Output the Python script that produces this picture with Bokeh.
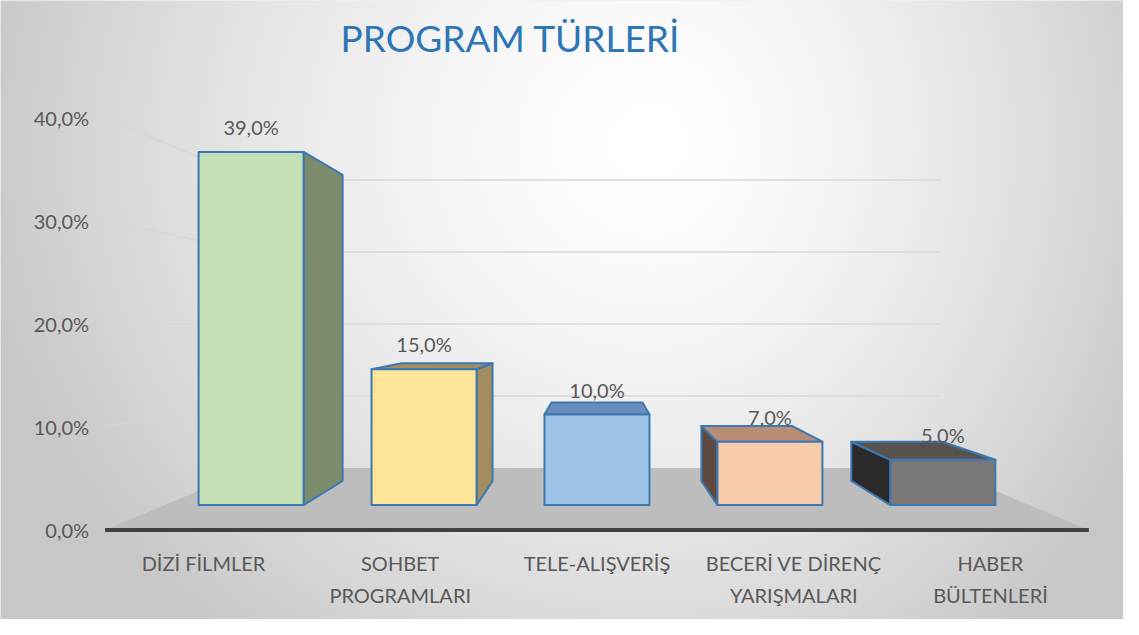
import numpy as np
from bokeh.plotting import figure
from bokeh.models import Range1d
from bokeh.core.properties import value
from bokeh.embed import file_html
from bokeh.resources import INLINE

# ---------------- data ----------------
title_text = "PROGRAM TÜRLERİ"
categories = ["DİZİ FİLMLER", "SOHBET PROGRAMLARI", "TELE-ALIŞVERİŞ",
              "BECERİ VE DİRENÇ YARIŞMALARI", "HABER BÜLTENLERİ"]
category_lines = [["DİZİ FİLMLER"], ["SOHBET", "PROGRAMLARI"], ["TELE-ALIŞVERİŞ"],
                  ["BECERİ VE DİRENÇ", "YARIŞMALARI"], ["HABER", "BÜLTENLERİ"]]
values = [39.0, 15.0, 10.0, 7.0, 5.0]
value_labels = ["39,0%", "15,0%", "10,0%", "7,0%", "5,0%"]
y_ticks = [0, 10, 20, 30, 40]
y_tick_labels = ["0,0%", "10,0%", "20,0%", "30,0%", "40,0%"]

front_colors = ["#C5E0B4", "#FFE699", "#9DC3E6", "#F8CBAD", "#7B7775"]
side_colors = ["#7C8B6B", "#A38D5E", "#5E7FA8", "#5E4A40", "#2B2929"]
top_colors = ["#7C8B6B", "#A38D5E", "#6A8CBC", "#B98D74", "#58524F"]

# ---------------- layout ----------------
W, H = 1123, 619
MARGIN = 8
PX_CAT = 196.75      # pixels per category on the front plane
X0_REF = 112.6       # page x of category axis start
PX_PCT = 10.3        # pixels per percent on the front plane
Y0_REF = 537.5       # page y of value 0 on the front plane

x_start = (MARGIN - X0_REF) / PX_CAT
x_end = x_start + W / PX_CAT
y_start = (Y0_REF - (MARGIN + H)) / PX_PCT
y_end = y_start + H / PX_PCT

# perspective: vanishing point (data units) and depth scale factors
VPX, VPY = 2.5, 20.0
S_FRONT = 1.0
S_BAR_F = 0.879
S_BAR_B = 0.762
S_WALL = 0.699
BAR_W = 0.607
N = len(categories)


def proj(x, v, s):
    return VPX + (x - VPX) * s, VPY + (v - VPY) * s


def face(pts):
    xs, ys = [], []
    for (x, v, s) in pts:
        a, b = proj(x, v, s)
        xs.append(a)
        ys.append(b)
    return xs, ys


p = figure(width=W, height=H, x_range=Range1d(x_start, x_end),
           y_range=Range1d(y_start, y_end), output_backend="svg",
           toolbar_location=None, min_border=0)
p.axis.visible = False
p.grid.visible = False
p.outline_line_color = None
p.background_fill_color = "#E6E6E6"
p.border_fill_color = "#E6E6E6"

# ---------------- background gradient ----------------
nx, ny = W // 2, H // 2
gx = np.linspace(0, W, nx)
gy = np.linspace(0, H, ny)
GX, GY = np.meshgrid(gx, gy)
cx, cy = 652, 142
rx = np.where(GX < cx, 600.0, 480.0)
r = np.sqrt(((GX - cx) / rx) ** 2 + ((GY - cy) / 560.0) ** 2)
r = np.clip(r, 0, 1.15)
val = (255 - 45 * r ** 1.5).astype(np.uint8)
img = np.empty((ny, nx), dtype=np.uint32)
view = img.view(dtype=np.uint8).reshape((ny, nx, 4))
view[:, :, 0] = val
view[:, :, 1] = val
view[:, :, 2] = val
view[:, :, 3] = 255
img = img[::-1]
p.image_rgba(image=[img], x=x_start, y=y_start, dw=x_end - x_start,
             dh=y_end - y_start, level="image")

# ---------------- walls & floor ----------------
for t in y_ticks[1:]:
    xs, ys = face([(0, t, S_WALL), (N, t, S_WALL)])
    p.line(xs, ys, line_color="#D9D9D9", line_width=1.5)
for t in y_ticks[1:]:
    xs, ys = face([(0, t, S_FRONT), (0, t, S_WALL)])
    p.line(xs, ys, line_color="#D6D6D6", line_width=1.5, line_alpha=0.8)

fx, fy = face([(0, 0, S_FRONT), (N, 0, S_FRONT), (N, 0, S_WALL), (0, 0, S_WALL)])
p.patch(fx, fy, fill_color="#BDBDBD", line_color=None)

# ---------------- bars ----------------
EDGE = "#3C78B4"
for i, v in enumerate(values):
    x0 = i + 0.5 - BAR_W / 2
    x1 = i + 0.5 + BAR_W / 2
    fxs, fys, fcs = [], [], []
    if x1 < VPX:
        xs, ys = face([(x1, 0, S_BAR_F), (x1, 0, S_BAR_B), (x1, v, S_BAR_B), (x1, v, S_BAR_F)])
        fxs.append(xs); fys.append(ys); fcs.append(side_colors[i])
    elif x0 > VPX:
        xs, ys = face([(x0, 0, S_BAR_F), (x0, 0, S_BAR_B), (x0, v, S_BAR_B), (x0, v, S_BAR_F)])
        fxs.append(xs); fys.append(ys); fcs.append(side_colors[i])
    if v < VPY:
        xs, ys = face([(x0, v, S_BAR_F), (x1, v, S_BAR_F), (x1, v, S_BAR_B), (x0, v, S_BAR_B)])
        fxs.append(xs); fys.append(ys); fcs.append(top_colors[i])
    xs, ys = face([(x0, 0, S_BAR_F), (x1, 0, S_BAR_F), (x1, v, S_BAR_F), (x0, v, S_BAR_F)])
    fxs.append(xs); fys.append(ys); fcs.append(front_colors[i])
    p.patches(fxs, fys, fill_color=fcs, line_color=EDGE, line_width=2,
              line_join="round")

ax, ay = face([(0, 0, S_FRONT), (N, 0, S_FRONT)])
p.line(ax, ay, line_color="#404040", line_width=4)

# ---------------- texts ----------------
LABEL_FONT = value("Lato")
TXT = "#595959"
FS = "20px"

lx, ly = [], []
for i, v in enumerate(values):
    a, b = proj(i + 0.5, v, S_BAR_F)
    lx.append(a)
    ly.append(b + 25 / PX_PCT)
p.text(x=lx, y=ly, text=value_labels, text_font=LABEL_FONT, text_font_size=FS,
       text_color=TXT, text_align="center", text_baseline="middle")

p.text(x=[-16.0 / PX_CAT] * len(y_ticks), y=y_ticks, text=y_tick_labels,
       text_font=LABEL_FONT, text_font_size=FS, text_color=TXT,
       text_align="right", text_baseline="middle")

cx_, cy_, ct_ = [], [], []
for i, lines in enumerate(category_lines):
    for k, line in enumerate(lines):
        cx_.append(i + 0.5)
        cy_.append(-(32.5 + 32 * k) / PX_PCT)
        ct_.append(line)
p.text(x=cx_, y=cy_, text=ct_, text_font=LABEL_FONT, text_font_size=FS,
       text_color=TXT, text_align="center", text_baseline="middle")

p.text(x=[(518 - X0_REF) / PX_CAT], y=[(Y0_REF - 45) / PX_PCT], text=[title_text],
       text_font=LABEL_FONT, text_font_size="37px", text_color="#2E75B6",
       text_align="center", text_baseline="middle")

open("out.html", "w").write(file_html(p, INLINE))
